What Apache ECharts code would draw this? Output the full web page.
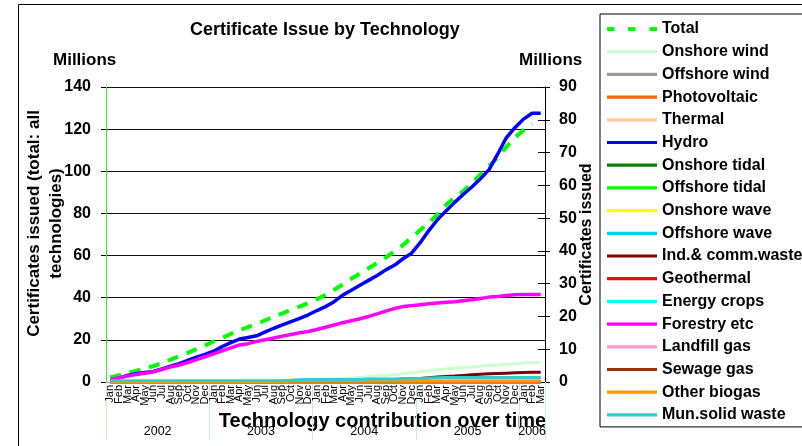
<!DOCTYPE html>
<html><head><meta charset="utf-8">
<script src="https://cdn.jsdelivr.net/npm/echarts@6/dist/echarts.min.js"></script>
<style>html,body{margin:0;padding:0;background:#fff}#c{width:802px;height:446px}</style>
</head><body><div id="c"></div>
<script>
const FONT = 'Liberation Sans, Arial, sans-serif';
const monthNames = ['Jan','Feb','Mar','Apr','May','Jun','Jul','Aug','Sep','Oct','Nov','Dec'];
const years = ['2002','2003','2004','2005','2006'];
const monthsPerYear = [12,12,12,12,3];
const leftTicks = [0,20,40,60,80,100,120,140];
const rightTicks = [0,10,20,30,40,50,60,70,80,90];

// Left axis (total, millions)
const total = [2.2,3.2,4.3,5.3,6.4,7.6,8.9,10.6,12.2,13.8,
  15.6,17.4,19.2,21.0,22.8,24.5,26.1,27.5,29.3,31.0,
  32.6,34.3,35.8,37.5,39.3,41.4,43.7,46.4,49.0,51.5,
  54.0,56.5,59.0,62.0,65.0,68.5,72.1,75.5,79.5,84.0,
  87.5,90.5,94.5,98.5,102.5,106.5,111.5,116.0,119.5,122.5];
// Right axis (per technology, millions)
const onshoreWind = [0.1,0.1,0.1,0.1,0.1,0.1,0.1,0.1,0.2,0.2,
  0.2,0.2,0.2,0.2,0.2,0.3,0.3,0.3,0.3,0.3,
  0.4,0.4,0.5,0.6,0.7,0.8,0.9,1.0,1.2,1.4,
  1.6,1.8,2.0,2.2,2.5,2.8,3.1,3.4,3.7,4.0,
  4.2,4.4,4.6,4.8,5.0,5.2,5.4,5.6,5.8,5.9,6.0];
const noOutput = [0,0,0,0,0,0,0,0,0,0, 0,0,0,0,0,0,0,0,0,0, 0,0,0,0,0,0,0,0,0,0,
  0,0,0,0,0,0,0,0,0,0, 0,0,0,0,0,0,0,0,0,0, 0];
const hydro = [0.4,1.2,2.0,2.5,2.9,3.2,4.0,4.8,5.6,6.6,
  7.6,8.4,9.4,10.8,12.0,13.1,13.6,14.1,15.3,16.4,
  17.4,18.4,19.4,20.5,21.8,23.0,24.5,26.5,28.0,29.5,
  31.0,32.5,34.2,35.6,37.6,39.3,42.5,46.2,49.5,52.2,
  54.8,57.2,59.5,62.0,64.8,69.5,74.5,77.6,80.2,82.0,82.0];
const indCommWaste = [0.1,0.1,0.1,0.1,0.1,0.1,0.1,0.1,0.1,0.1,
  0.1,0.1,0.1,0.1,0.1,0.1,0.1,0.1,0.1,0.1,
  0.1,0.2,0.2,0.2,0.3,0.3,0.3,0.4,0.4,0.5,
  0.5,0.6,0.7,0.8,0.9,1.0,1.1,1.3,1.5,1.7,
  1.8,2.0,2.2,2.4,2.5,2.6,2.7,2.8,2.9,3.0,3.0];
const forestry = [0.8,1.3,1.8,2.3,2.7,3.1,3.8,4.6,5.2,5.9,
  6.8,7.7,8.6,9.5,10.4,11.3,11.7,12.4,12.9,13.4,
  14.0,14.5,15.0,15.4,16.0,16.7,17.4,18.1,18.7,19.3,
  20.0,20.8,21.6,22.4,23.0,23.3,23.6,23.9,24.1,24.3,
  24.5,24.8,25.1,25.5,25.9,26.1,26.4,26.6,26.7,26.7,26.7];
const landfillGas = [0,0,0,0,0,0,0,0,0,0,
  0,0,0,0,0,0,0,0,0,0,
  0,0.1,0.1,0.1,0.1,0.1,0.1,0.2,0.2,0.2,
  0.2,0.2,0.2,0.2,0.2,0.3,0.3,0.3,0.3,0.3,
  0.4,0.4,0.4,0.4,0.4,0.4,0.4,0.4,0.4,0.4,0.4];
const sewageGas = [0.1,0.1,0.1,0.1,0.1,0.1,0.1,0.1,0.1,0.1,
  0.1,0.1,0.1,0.1,0.1,0.1,0.1,0.1,0.1,0.1,
  0.1,0.1,0.1,0.1,0.1,0.1,0.1,0.1,0.1,0.1,
  0.1,0.1,0.1,0.1,0.1,0.1,0.1,0.1,0.1,0.1,
  0.1,0.1,0.1,0.1,0.1,0.1,0.1,0.1,0.1,0.1,0.1];
const otherBiogas = [0.1,0.1,0.1,0.1,0.1,0.1,0.1,0.1,0.1,0.1,
  0.1,0.1,0.1,0.1,0.1,0.1,0.1,0.1,0.1,0.1,
  0.1,0.2,0.2,0.2,0.2,0.2,0.2,0.2,0.2,0.2,
  0.2,0.2,0.2,0.2,0.2,0.2,0.2,0.2,0.2,0.2,
  0.2,0.2,0.2,0.2,0.2,0.2,0.2,0.2,0.2,0.2,0.2];
const munSolidWaste = [0.4,0.4,0.4,0.4,0.4,0.4,0.4,0.4,0.4,0.4,
  0.4,0.4,0.4,0.4,0.4,0.4,0.4,0.4,0.4,0.4,
  0.4,0.5,0.7,0.8,0.8,0.8,0.8,0.8,0.8,0.8,
  0.9,0.9,0.9,0.9,1.0,1.0,1.1,1.2,1.3,1.4,
  1.4,1.4,1.4,1.4,1.4,1.4,1.4,1.4,1.4,1.4,1.4];

const techSeries = [
  ['Onshore wind', onshoreWind, '#ccffcc', 3],
  ['Offshore wind', noOutput, '#999999', 3],
  ['Photovoltaic', noOutput, '#ff6600', 3],
  ['Thermal', noOutput, '#ffcc99', 3],
  ['Hydro', hydro, '#0000ff', 3.5],
  ['Onshore tidal', noOutput, '#008000', 3],
  ['Offshore tidal', noOutput, '#00ff00', 3],
  ['Onshore wave', noOutput, '#ffff00', 3],
  ['Offshore wave', noOutput, '#00ccff', 3],
  ['Ind.& comm.waste', indCommWaste, '#800000', 3],
  ['Geothermal', noOutput, '#ff0000', 3],
  ['Energy crops', noOutput, '#00ffff', 3],
  ['Forestry etc', forestry, '#ff00ff', 3.5],
  ['Landfill gas', landfillGas, '#ff99cc', 3],
  ['Sewage gas', sewageGas, '#993300', 3],
  ['Other biogas', otherBiogas, '#ff9900', 3],
  ['Mun.solid waste', munSolidWaste, '#33cccc', 3]
];

const categories = [];
years.forEach((y, yi) => { for (let m = 0; m < monthsPerYear[yi]; m++) categories.push(monthNames[m] + ' ' + y); });
const nCat = categories.length;
const yearCenters = {};
let acc = 0;
years.forEach((y, yi) => { yearCenters[String(acc + monthsPerYear[yi] / 2)] = y; acc += monthsPerYear[yi]; });
const yearStarts = [];
acc = 0;
monthsPerYear.forEach(n => { yearStarts.push(acc); acc += n; });

const solidIcon = 'path://M0,0h50v3.2H0z';
const dashedIcon = 'path://M0,0h7.5v3.8H0z M21,0h7.5v3.8h-7.5z M42.5,0h7.5v3.8h-7.5z';

const series = [{
  name: 'Total', type: 'line', xAxisIndex: 0, yAxisIndex: 0, data: total,
  symbol: 'none', lineStyle: { color: '#00ff00', width: 4, type: [11, 9] },
  itemStyle: { color: '#00ff00' }, emphasis: { disabled: true }, animation: false
}];
techSeries.forEach(s => series.push({
  name: s[0], type: 'line', xAxisIndex: 0, yAxisIndex: 1, data: s[1],
  symbol: 'none', lineStyle: { color: s[2], width: s[3] },
  itemStyle: { color: s[2] }, emphasis: { disabled: true }, animation: false
}));

const chart = echarts.init(document.getElementById('c'), null, { renderer: 'canvas' });
chart.setOption({
  animation: false,
  backgroundColor: '#fff',
  textStyle: { fontFamily: FONT },
  title: {
    text: 'Certificate Issue by Technology', left: 190, top: 21, padding: 0,
    textStyle: { fontFamily: FONT, fontWeight: 'bold', fontSize: 18, color: '#000' }
  },
  legend: {
    orient: 'vertical', left: 600, top: 14, padding: [7, 7, 4, 7],
    itemWidth: 50, itemHeight: 14, itemGap: 6.7, selectedMode: false,
    borderColor: '#000', borderWidth: 1, backgroundColor: '#fff',
    textStyle: { fontFamily: FONT, fontWeight: 'bold', fontSize: 16, color: '#000' },
    data: series.map((s, i) => ({ name: s.name, icon: i === 0 ? dashedIcon : solidIcon }))
  },
  grid: { left: 106, right: 257, top: 87, bottom: 64, containLabel: false },
  xAxis: [{
    type: 'category', data: categories, boundaryGap: true, position: 'bottom',
    axisLine: { show: true, lineStyle: { color: '#999' } },
    axisTick: { show: true, length: 58, interval: (i) => yearStarts.indexOf(i) >= 0, lineStyle: { color: '#c4f4c4' } },
    axisLabel: { interval: 0, rotate: 90, fontSize: 11, margin: 3, color: '#000', fontFamily: FONT,
      formatter: v => v.split(' ')[0] },
    splitLine: { show: false },
    name: 'Technology contribution over time', nameLocation: 'middle', nameGap: 29, nameMoveOverlap: false,
    nameTextStyle: { fontFamily: FONT, fontWeight: 'bold', fontSize: 20, color: '#000', padding: [0, 0, 0, 114] }
  }, {
    type: 'value', min: 0, max: nCat, interval: 0.5, position: 'bottom',
    axisLine: { show: false }, axisTick: { show: false }, splitLine: { show: false },
    axisLabel: { margin: 43, fontSize: 12.5, color: '#000', fontFamily: FONT,
      formatter: v => yearCenters[String(v)] || '' }
  }],
  yAxis: [{
    type: 'value', position: 'left', min: 0, max: 140, interval: 20,
    axisLine: { show: true, lineStyle: { color: '#33ee33', width: 1 } },
    axisTick: { show: true, length: 5, lineStyle: { color: '#000' } },
    axisLabel: { margin: 15, fontSize: 16, fontWeight: 'bold', color: '#000', fontFamily: FONT },
    splitLine: { show: true, lineStyle: { color: '#111', width: 1 } },
    name: 'Certificates issued (total: all\ntechnologies)', nameLocation: 'middle', nameRotate: 90, nameGap: 39,
    nameMoveOverlap: false,
    nameTextStyle: { fontFamily: FONT, fontWeight: 'bold', fontSize: 17, color: '#000', lineHeight: 22, padding: [0, 0, 0, 22] }
  }, {
    type: 'value', position: 'right', min: 0, max: 90, interval: 10,
    axisLine: { show: true, lineStyle: { color: '#000', width: 1 } },
    axisTick: { show: true, length: 5, lineStyle: { color: '#000' } },
    axisLabel: { margin: 14, fontSize: 16, fontWeight: 'bold', color: '#000', fontFamily: FONT },
    splitLine: { show: false },
    name: 'Certificates issued', nameLocation: 'middle', nameRotate: 90, nameGap: 34,
    nameMoveOverlap: false,
    nameTextStyle: { fontFamily: FONT, fontWeight: 'bold', fontSize: 16, color: '#000' }
  }, {
    type: 'value', position: 'right', min: 0, max: 90, interval: 10,
    axisLine: { show: false }, axisLabel: { show: false }, splitLine: { show: false },
    axisTick: { show: true, inside: true, length: 7, lineStyle: { color: '#000' } }
  }],
  graphic: [
    { type: 'rect', shape: { x: 18.5, y: 4.5, width: 820, height: 460 }, style: { fill: null, stroke: '#000', lineWidth: 1 }, z: -10, silent: true },
    { type: 'text', left: 53, top: 52, style: { text: 'Millions', font: 'bold 17px ' + FONT, fill: '#000' } },
    { type: 'text', left: 519, top: 52, style: { text: 'Millions', font: 'bold 17px ' + FONT, fill: '#000' } }
  ],
  series: series
});
</script>
</body></html>
